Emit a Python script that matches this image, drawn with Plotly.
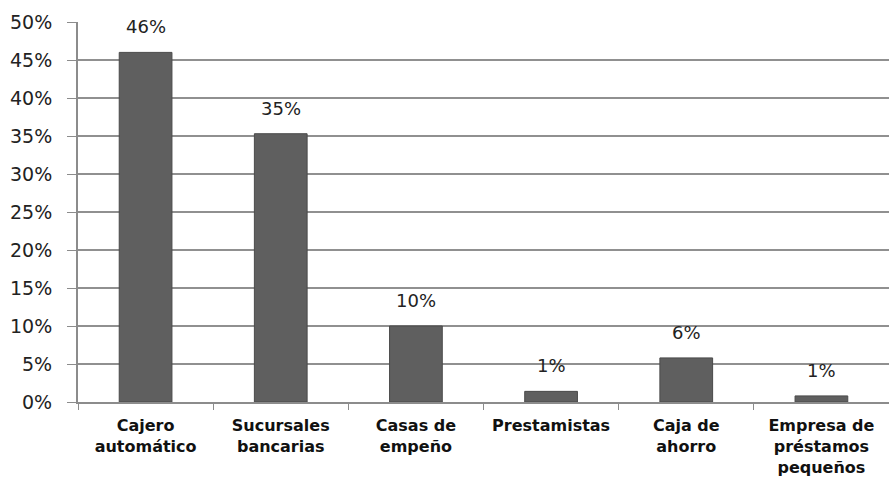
import plotly.graph_objects as go

categories = ["Cajero<br>automático", "Sucursales<br>bancarias", "Casas de<br>empeño",
              "Prestamistas", "Caja de<br>ahorro", "Empresa de<br>préstamos<br>pequeños"]
values = [0.46, 0.353, 0.10, 0.014, 0.058, 0.008]
y_ticks = [0, 0.05, 0.10, 0.15, 0.20, 0.25, 0.30, 0.35, 0.40, 0.45, 0.50]

fig = go.Figure(go.Bar(
    x=categories, y=values,
    marker=dict(color="#5f5f5f", line=dict(color="#4a4a4a", width=1)),
    width=0.39,
    cliponaxis=False,
))

for c, v in zip(categories, values):
    fig.add_annotation(x=c, y=v, text=f"{v:.0%}", showarrow=False,
                       yanchor="bottom", yshift=13,
                       font=dict(family="DejaVu Sans", size=18, color="#222"))

fig.update_layout(
    width=889, height=489,
    margin=dict(l=78, r=0, t=22, b=87),
    paper_bgcolor="white", plot_bgcolor="white",
    showlegend=False,
    font=dict(family="DejaVu Sans", color="#222"),
)
fig.update_yaxes(
    range=[0, 0.5], tickvals=y_ticks, tickformat=".0%",
    showgrid=True, gridcolor="#909090", gridwidth=1.5,
    showline=True, linecolor="#8c8c8c", linewidth=2,
    ticks="outside", ticklen=9, tickcolor="#8c8c8c",
    tickfont=dict(size=19, color="#222"), ticklabelstandoff=11,
    zeroline=False,
)
fig.update_xaxes(
    showline=True, linecolor="#8c8c8c", linewidth=2,
    ticks="outside", tickson="boundaries", ticklen=6, tickcolor="#8c8c8c",
    tickfont=dict(size=16, color="#111", family="DejaVu Sans", weight="bold"),
    tickangle=0, ticklabelstandoff=8,
)

fig.write_html("out.html")
